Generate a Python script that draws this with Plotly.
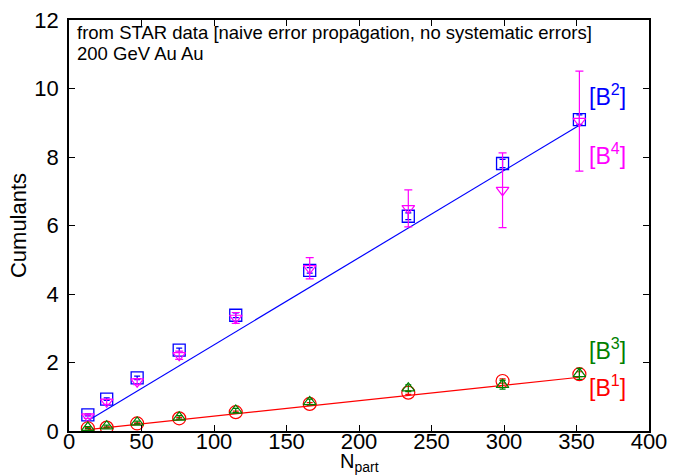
import plotly.graph_objects as go

npart = [13, 26, 47, 76, 115, 166, 234, 299, 352]
b1 = [0.08, 0.10, 0.22, 0.37, 0.55, 0.79, 1.12, 1.46, 1.66]
b1_err = [0.02, 0.02, 0.02, 0.03, 0.03, 0.04, 0.05, 0.06, 0.07]
b2 = [0.47, 0.93, 1.55, 2.36, 3.38, 4.69, 6.27, 7.81, 9.09]
b2_err = [0.03, 0.04, 0.05, 0.06, 0.07, 0.08, 0.1, 0.12, 0.14]
b3 = [0.10, 0.14, 0.25, 0.40, 0.60, 0.85, 1.25, 1.35, 1.67]
b3_err = [0.03, 0.03, 0.04, 0.05, 0.06, 0.08, 0.1, 0.13, 0.16]
b4 = [0.42, 0.85, 1.44, 2.21, 3.30, 4.75, 6.50, 7.03, 9.05]
b4_err = [0.05, 0.07, 0.09, 0.12, 0.16, 0.31, 0.54, 1.09, 1.46]

fit_x = [13, 352]
fit_b2 = [0.30, 8.93]
fit_b1 = [0.04, 1.57]

FONT = "Liberation Sans"

fig = go.Figure()
fig.add_trace(go.Scatter(x=fit_x, y=fit_b2, mode="lines", line=dict(color="blue", width=1.2), showlegend=False))
fig.add_trace(go.Scatter(x=fit_x, y=fit_b1, mode="lines", line=dict(color="red", width=1.2), showlegend=False))

fig.add_trace(go.Scatter(x=npart, y=b2, mode="markers",
    marker=dict(symbol="square-open", size=12, color="blue", line=dict(width=1.3)),
    error_y=dict(type="data", array=b2_err, color="blue", width=3, thickness=1.2), showlegend=False))
fig.add_trace(go.Scatter(x=npart, y=b4, mode="markers",
    marker=dict(symbol="triangle-down-open", size=11, color="magenta", line=dict(width=1.2)),
    error_y=dict(type="data", array=b4_err, color="magenta", width=4, thickness=1.2), showlegend=False))
fig.add_trace(go.Scatter(x=npart, y=b1, mode="markers",
    marker=dict(symbol="circle-open", size=13, color="red", line=dict(width=1.2)),
    error_y=dict(type="data", array=b1_err, color="red", width=3, thickness=1.2), showlegend=False))
fig.add_trace(go.Scatter(x=npart, y=b3, mode="markers",
    marker=dict(symbol="triangle-up-open", size=11, color="green", line=dict(width=1.2)),
    error_y=dict(type="data", array=b3_err, color="green", width=3, thickness=1.2), showlegend=False))

axis_common = dict(showgrid=False, zeroline=False, showline=True, linecolor="black", linewidth=1.5,
                   mirror="ticks", ticks="inside", ticklen=6, tickcolor="black", tickwidth=1,
                   automargin=False, tickfont=dict(family=FONT, size=22, color="black"))

fig.update_xaxes(range=[0, 400], dtick=50, ticklabelstandoff=-10, **axis_common)
fig.update_yaxes(range=[0, 12], dtick=2, ticklabelstandoff=4, **axis_common,
                 title=dict(text="Cumulants", font=dict(family=FONT, size=22, color="black"), standoff=2))

ann = [
    dict(text="from STAR data [naive error propagation, no systematic errors]", x=0.01, y=1.0, xanchor="left", yanchor="top",
         font=dict(size=18.5, color="black")),
    dict(text="200 GeV Au Au", x=0.01, y=0.948, xanchor="left", yanchor="top", font=dict(size=18.5, color="black")),
    dict(text="N<sub>part</sub>", x=0.5, y=-0.113, xanchor="center", yanchor="bottom", font=dict(size=20, color="black")),
]
for a in ann:
    a.update(xref="paper", yref="paper", showarrow=False)
    a["font"]["family"] = FONT
    fig.add_annotation(**a)

labels = [("[B<sup>2</sup>]", 9.8, "blue"), ("[B<sup>4</sup>]", 8.1, "magenta"),
          ("[B<sup>3</sup>]", 2.38, "green"), ("[B<sup>1</sup>]", 1.32, "red")]
for t, yv, c in labels:
    fig.add_annotation(text=t, x=357, y=yv, xref="x", yref="y", xanchor="left", yanchor="middle",
                       showarrow=False, font=dict(family=FONT, size=23, color=c))

fig.update_layout(width=675, height=476, margin=dict(l=69, r=26, t=20, b=45),
                  paper_bgcolor="white", plot_bgcolor="white")
fig.write_html("out.html")
